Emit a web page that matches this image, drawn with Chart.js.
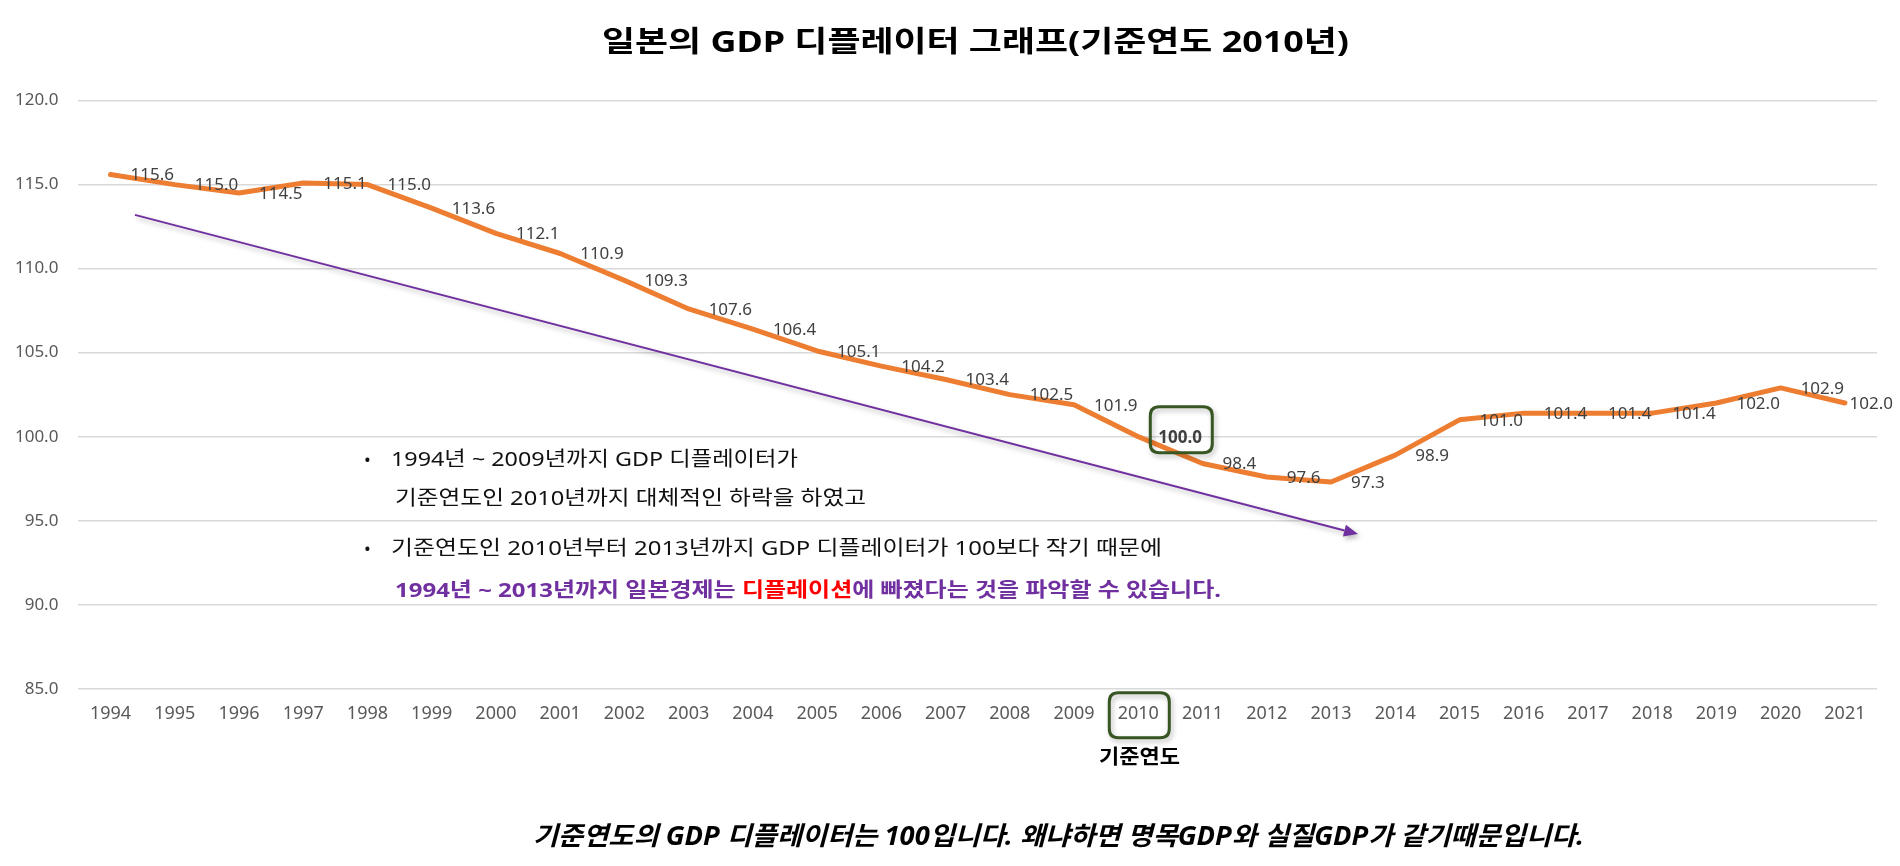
<!DOCTYPE html>
<html lang="ko">
<head>
<meta charset="utf-8">
<script src="https://cdn.jsdelivr.net/npm/chart.js@4.4.1/dist/chart.umd.min.js"></script>
<style>
  html, body { margin: 0; padding: 0; background: #fff; }
  #wrap { position: relative; width: 1900px; height: 866px; overflow: hidden; }
  #c { position: absolute; left: 0; top: 0; }
  .t { position: absolute; white-space: nowrap; font-family: "Noto Sans", "Noto Sans CJK KR", sans-serif; transform-origin: 0 50%; }
  #title { left: 602px; top: 20px; line-height: 42px; font-size: 29px; font-weight: 700; color: #000; }
  .ann { font-size: 20px; line-height: 30px; color: #111; }
  .bul { font-size: 18px; line-height: 30px; color: #111; }
  #l4 { font-weight: 700; color: #7030A0; }
  #l4 .red { color: #FF0000; }
  #base { left: 1099px; top: 742px; line-height: 30px; font-size: 20px; font-weight: 700; color: #000; }
  #note { left: 533px; top: 818px; line-height: 34px; font-size: 26px; font-weight: 700; font-style: italic; color: #000; }
</style>
</head>
<body>
<div id="wrap">
  <canvas id="c" width="1900" height="866"></canvas>
  <div class="t fit" id="title" data-w="747">일본의 GDP 디플레이터 그래프(기준연도 2010년)</div>
  <div class="t bul" style="left:364px; top:444px;">•</div>
  <div class="t ann fit" data-w="407" style="left:391px; top:444px;">1994년 ~ 2009년까지 GDP 디플레이터가</div>
  <div class="t ann fit" data-w="471" style="left:394.5px; top:483px;">기준연도인 2010년까지 대체적인 하락을 하였고</div>
  <div class="t bul" style="left:364px; top:533px;">•</div>
  <div class="t ann fit" data-w="771" style="left:391px; top:533px;">기준연도인 2010년부터 2013년까지 GDP 디플레이터가 100보다 작기 때문에</div>
  <div class="t ann fit" id="l4" data-w="826" style="left:394.5px; top:575px;">1994년 ~ 2013년까지 일본경제는 <span class="red">디플레이션</span>에 빠졌다는 것을 파악할 수 있습니다.</div>
  <div class="t fit" id="base" data-w="81">기준연도</div>
  <div class="t fit" id="note" data-w="1051">기준연도의 GDP 디플레이터는 100입니다. 왜냐하면 명목GDP와 실질GDP가 같기때문입니다.</div>
</div>
<script>
// ---- data ----
const years = ['1994','1995','1996','1997','1998','1999','2000','2001','2002','2003','2004','2005','2006','2007','2008','2009','2010','2011','2012','2013','2014','2015','2016','2017','2018','2019','2020','2021'];
const deflator = [115.6,115.0,114.5,115.1,115.0,113.6,112.1,110.9,109.3,107.6,106.4,105.1,104.2,103.4,102.5,101.9,100.0,98.4,97.6,97.3,98.9,101.0,101.4,101.4,101.4,102.0,102.9,102.0];
const yMin = 85, yMax = 120, yStep = 5;
const baseYear = '2010';
// trend arrow annotation, in data units (category index, value)
const arrowStart = [0.38, 113.2];
const arrowEnd = [19.42, 94.2];

const baseIdx = years.indexOf(baseYear);

function fitTexts() {
  document.querySelectorAll('.fit').forEach(el => {
    el.style.transform = 'none';
    const w = el.getBoundingClientRect().width;
    const target = parseFloat(el.dataset.w);
    if (w > 0) el.style.transform = 'scaleX(' + (target / w).toFixed(4) + ')';
  });
}
fitTexts();
if (document.fonts && document.fonts.ready) document.fonts.ready.then(fitTexts);

const annPlugin = {
  id: 'annPlugin',
  afterDatasetsDraw(chart) {
    const ctx = chart.ctx;
    const meta = chart.getDatasetMeta(0);
    const xs = chart.scales.x, ys = chart.scales.y;
    ctx.save();
    // trend arrow
    const x1 = xs.getPixelForValue(arrowStart[0]), y1 = ys.getPixelForValue(arrowStart[1]);
    const x2 = xs.getPixelForValue(arrowEnd[0]), y2 = ys.getPixelForValue(arrowEnd[1]);
    ctx.shadowColor = 'rgba(0,0,0,0.28)';
    ctx.shadowBlur = 5; ctx.shadowOffsetX = 2; ctx.shadowOffsetY = 3;
    ctx.strokeStyle = '#7030A0'; ctx.fillStyle = '#7030A0'; ctx.lineWidth = 2;
    const ang = Math.atan2(y2 - y1, x2 - x1);
    const hl = 14, hw = 6;
    const bx = x2 - hl * Math.cos(ang), by = y2 - hl * Math.sin(ang);
    ctx.beginPath(); ctx.moveTo(x1, y1); ctx.lineTo(bx, by); ctx.stroke();
    ctx.beginPath();
    ctx.moveTo(x2, y2);
    ctx.lineTo(bx + hw * Math.sin(ang), by - hw * Math.cos(ang));
    ctx.lineTo(bx - hw * Math.sin(ang), by + hw * Math.cos(ang));
    ctx.closePath(); ctx.fill();
    ctx.restore();

    // data labels
    ctx.save();
    ctx.textAlign = 'left'; ctx.textBaseline = 'middle'; ctx.fillStyle = '#404040';
    meta.data.forEach((pt, i) => {
      ctx.font = (i === baseIdx ? '700 ' : '400 ') + '17px "Noto Sans", sans-serif';
      const txt = deflator[i].toFixed(1);
      const w = ctx.measureText(txt).width;
      const x = Math.min(pt.x + 20, chart.width - 7 - w);
      ctx.fillText(txt, x, pt.y + 1);
    });
    ctx.restore();

    // green boxes (around base-year label and base-year tick)
    const p = meta.data[baseIdx];
    const tx = xs.getPixelForValue(baseIdx);
    const rr = (x, y, w, h, r) => {
      ctx.beginPath();
      ctx.moveTo(x + r, y); ctx.lineTo(x + w - r, y); ctx.quadraticCurveTo(x + w, y, x + w, y + r);
      ctx.lineTo(x + w, y + h - r); ctx.quadraticCurveTo(x + w, y + h, x + w - r, y + h);
      ctx.lineTo(x + r, y + h); ctx.quadraticCurveTo(x, y + h, x, y + h - r);
      ctx.lineTo(x, y + r); ctx.quadraticCurveTo(x, y, x + r, y);
      ctx.closePath();
    };
    ctx.save();
    ctx.shadowColor = 'rgba(0,0,0,0.25)';
    ctx.shadowBlur = 5; ctx.shadowOffsetX = 2; ctx.shadowOffsetY = 3;
    ctx.strokeStyle = '#375623'; ctx.lineWidth = 3;
    rr(p.x + 12, p.y - 30, 62, 46, 9); ctx.stroke();
    rr(tx - 29, chart.chartArea.bottom + 4, 60, 45, 9); ctx.stroke();
    ctx.restore();
  }
};

new Chart(document.getElementById('c'), {
  type: 'line',
  data: {
    labels: years,
    datasets: [{
      data: deflator,
      borderColor: '#ED7D31',
      borderWidth: 5,
      pointRadius: 0,
      pointHoverRadius: 0,
      tension: 0,
      fill: false,
      borderJoinStyle: 'round',
      borderCapStyle: 'round'
    }]
  },
  options: {
    responsive: false,
    animation: false,
    events: [],
    layout: { padding: { top: 100.6, right: 23, bottom: 0, left: 0 } },
    plugins: { legend: { display: false }, tooltip: { enabled: false }, title: { display: false } },
    scales: {
      x: {
        offset: true,
        grid: { display: false, drawTicks: false },
        border: { display: false },
        ticks: { autoSkip: false, maxRotation: 0, padding: 14.5, color: '#595959', font: { family: '"Noto Sans", sans-serif', size: 18 } },
        afterFit: s => { s.height = 866 - 688.7; }
      },
      y: {
        min: yMin, max: yMax,
        grid: { color: '#D9D9D9', lineWidth: 1.5, drawTicks: false },
        border: { display: false },
        ticks: { stepSize: yStep, padding: 20, color: '#595959', font: { family: '"Noto Sans", sans-serif', size: 17 }, callback: v => Number(v).toFixed(1) },
        afterFit: s => { s.width = 78.4; }
      }
    }
  },
  plugins: [annPlugin]
});
</script>
</body>
</html>
